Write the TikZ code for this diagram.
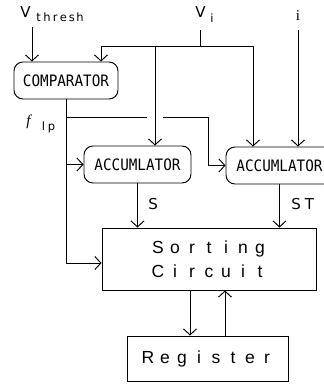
\documentclass[tikz,border=0pt]{standalone}
\usepackage{fontspec}
\usetikzlibrary{arrows.meta}
\newfontfamily\monof{DejaVu Sans Mono}
\newfontfamily\serf{Liberation Serif}
\newfontfamily\sansf{DejaVu Sans}
\newfontfamily\lsansf{Liberation Sans}
\makeatletter
\newcommand\spread[2]{\@tfor\sp@c:=#2\do{\makebox[#1]{\sp@c}}}
\makeatother
\begin{document}
\begin{tikzpicture}[x=1pt,y=-1pt,line width=0.95pt,
  arr/.style={-{Straight Barb[length=6pt,width=13pt,line width=0.95pt]}},
  rbox/.style={draw,rounded corners=9pt,inner sep=0pt,minimum width=105pt,minimum height=37pt,
    font=\monof\fontsize{14.3}{14.3}\selectfont},
  sbox/.style={draw,inner sep=0pt,font=\lsansf\fontsize{17.5}{24}\selectfont,align=center},
  lbl/.style={inner sep=0pt,anchor=base west,font=\sansf\fontsize{15}{15}\selectfont},
  sub/.style={inner sep=0pt,anchor=base west,font=\sansf\fontsize{11.5}{11.5}\selectfont}]
\useasboundingbox (0,0) rectangle (324,384);
\clip (0,0) rectangle (324,384);
% boxes
\node[rbox,minimum width=104pt] (comp) at (66,80.5) {\scalebox{1}[1.1]{COMPARATOR}};
\node[rbox,minimum width=107pt] (acc1) at (137.5,164.5) {\scalebox{1}[1.1]{ACCUMLATOR}};
\node[rbox,minimum width=107pt] (acc2) at (279.5,165.5) {\scalebox{1}[1.1]{ACCUMLATOR}};
\node[sbox,minimum width=214pt,minimum height=62pt] (sort) at (209,259)
  {\spread{17pt}{Sorting}\\\spread{17pt}{Circuit}};
\node[sbox,minimum width=161pt,minimum height=45pt] (reg) at (207.5,358.5)
  {\spread{17pt}{Register}};
% labels
\node[lbl] (vth) at (20,17) {V};
\node[sub] (vths) at (34,21) {\spread{8.3pt}{thresh}};
\node[lbl] (vi) at (195,17) {V};
\node[sub] (vis) at (210,22) {i};
\node[lbl,font=\serf\fontsize{15}{15}\selectfont] (ilbl) at (295.5,20) {i};
\node[lbl,font=\serf\fontsize{15}{15}\selectfont] (flbl) at (26,125) {\itshape f};
\node[sub] (flps) at (39,130) {\spread{8pt}{lp}};
\node[lbl] (slbl) at (148,209) {S};
\node[lbl] (stlbl) at (291,209) {S\hspace{4pt}T};
% coordinates
\coordinate (vt) at (32,27);
\coordinate (vitop) at (200,30);
\coordinate (j) at (200,46);
\coordinate (itop) at (298,30);
\coordinate (f1) at (comp.south |- 0,117);
\coordinate (g1) at (147,117);
\coordinate (g2) at (163,117);
\coordinate (f2) at (208,117);
\coordinate (b1) at (comp.south |- acc1.west);
\coordinate (b2) at (comp.south |- 0,263);
% connectors
\draw[arr] (vt) -- (vt |- comp.north);
\draw (vitop) -- (j);
\draw[arr] (j) -| ([xshift=35pt]comp.north);
\draw[arr] (j) -| ([xshift=17.5pt]acc1.north);
\draw[arr] (j) -| ([xshift=-26.5pt]acc2.north);
\draw[arr] (itop) -- (itop |- acc2.north);
\draw (comp.south) -- (b2);
\draw[arr] (b2) -- (b2 -| sort.west);
\draw[arr] (b1) -- (acc1.west);
\draw (f1) -- (g1);
\draw[arr] (g2) -- (f2) |- (acc2.west);
\draw[arr] (acc1.south) -- (acc1.south |- sort.north);
\draw[arr] (acc2.south) -- (acc2.south |- sort.north);
\draw[arr] ([xshift=-19pt]sort.south) -- ([xshift=-19pt]sort.south |- reg.north);
\draw[arr] ([xshift=17.5pt]reg.north) -- ([xshift=17.5pt]reg.north |- sort.south);
\end{tikzpicture}
\end{document}
